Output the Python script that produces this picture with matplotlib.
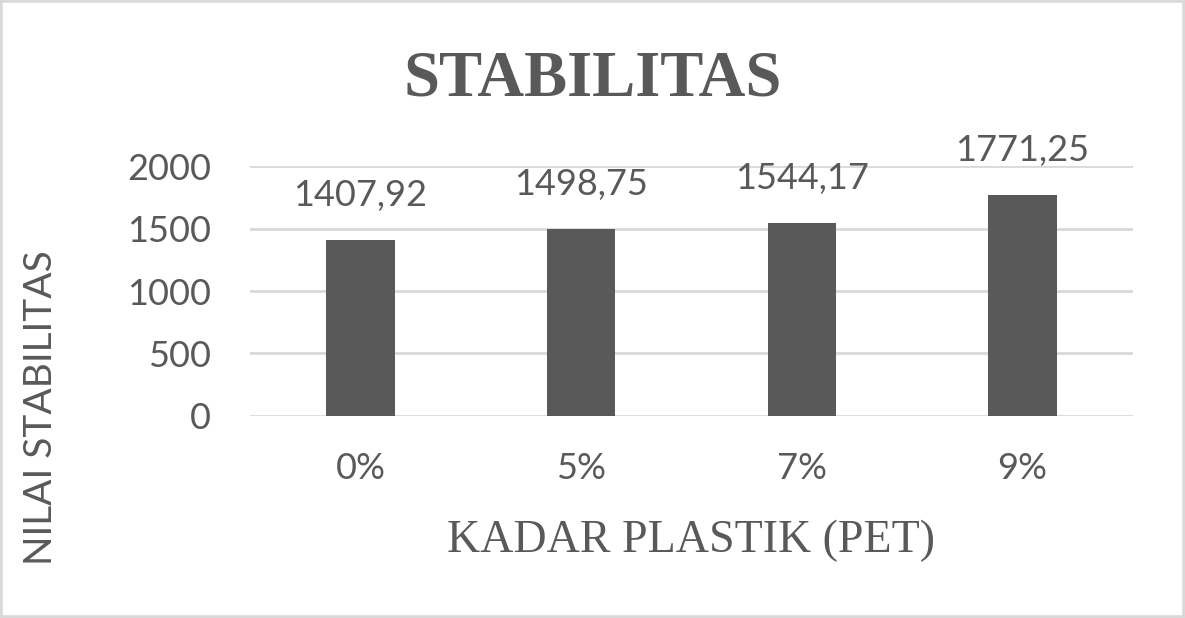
import matplotlib.pyplot as plt
from matplotlib.patches import Rectangle

categories = ["0%", "5%", "7%", "9%"]
stabilitas = [1407.92, 1498.75, 1544.17, 1771.25]
value_labels = ["1407,92", "1498,75", "1544,17", "1771,25"]
yticks = [0, 500, 1000, 1500, 2000]

TEXT = "#595959"
BAR = "#595959"
GRID = "#d9d9d9"
SANS = ["Lato", "DejaVu Sans"]
SERIF = ["Liberation Serif", "DejaVu Serif"]

fig = plt.figure(figsize=(11.85, 6.18), dpi=100)
fig.patch.set_facecolor("white")
fig.patches.append(Rectangle((0, 0), 1, 1, transform=fig.transFigure,
                             fill=False, edgecolor=GRID, linewidth=4))

ax = fig.add_axes([0.211, 0.327, 0.745, 0.404])
x = range(len(categories))
ax.bar(x, stabilitas, width=0.31, color=BAR, zorder=3)
for xi, v, lab in zip(x, stabilitas, value_labels):
    ax.annotate(lab, xy=(xi, v), xytext=(0, 20), textcoords="offset points",
                ha="center", va="bottom", fontsize=26, color=TEXT, family=SANS)

ax.set_xlim(-0.5, len(categories) - 0.5)
ax.set_ylim(0, 2000)
ax.set_yticks(yticks)
ax.set_yticklabels([str(t) for t in yticks], fontsize=26, color=TEXT, family=SANS)
ax.set_xticks(list(x))
ax.set_xticklabels(categories, fontsize=26, color=TEXT, family=SANS)
ax.tick_params(axis="y", length=0, pad=28)
ax.tick_params(axis="x", length=0, pad=26)
ax.grid(axis="y", color=GRID, linewidth=2, zorder=0)
for s in ax.spines.values():
    s.set_visible(False)

fig.text(0.5, 0.872, "STABILITAS", ha="center", va="center", fontsize=46.5,
         fontweight="bold", color=TEXT, family=SERIF)
fig.text(0.583, 0.125, "KADAR PLASTIK (PET)", ha="center", va="center",
         fontsize=33, color=TEXT, family=SERIF)
fig.text(0.035, 0.341, "NILAI STABILITAS", ha="center", va="center",
         rotation=90, fontsize=28, color=TEXT, family=SANS)

fig.savefig("out.png", dpi=100, facecolor="white")
